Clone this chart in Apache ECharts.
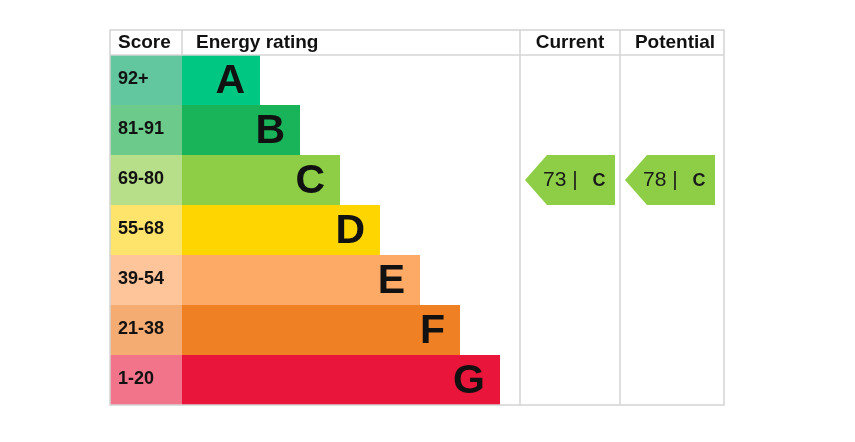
<!DOCTYPE html>
<html>
<head>
<meta charset="utf-8">
<script src="https://cdn.jsdelivr.net/npm/echarts@6/dist/echarts.min.js"></script>
<style>html,body{margin:0;padding:0;background:#fff}#c{width:855px;height:442px}</style>
</head>
<body>
<div id="c"></div>
<script>
// ---- data ----
const bands = ['A', 'B', 'C', 'D', 'E', 'F', 'G'];
const scoreRanges = ['92+', '81-91', '69-80', '55-68', '39-54', '21-38', '1-20'];
const bandMinScore = [92, 81, 69, 55, 39, 21, 1];
const barUnits = [2, 3, 4, 5, 6, 7, 8];
const bandColors = ['#00c781', '#19b459', '#8dce46', '#ffd500', '#fcaa65', '#ef8023', '#e9153b'];
const scoreColors = ['#62c79f', '#6ccb8b', '#b7de89', '#ffe46b', '#fec59a', '#f4ac72', '#f2748a'];
const currentScore = 73;
const potentialScore = 78;
const headers = ['Score', 'Energy rating', 'Current', 'Potential'];

function bandOf(score) {
  for (let i = 0; i < bandMinScore.length; i++) if (score >= bandMinScore[i]) return i;
  return bandMinScore.length - 1;
}

const chart = echarts.init(document.getElementById('c'), null, {renderer: 'canvas'});
const FONT = '"Liberation Sans", Arial, sans-serif';
const LINE = '#d4d4d4';

const gridTop = 55, gridH = 350;
const grids = [
  {left: 110, top: gridTop, width: 72, height: gridH},
  {left: 182, top: gridTop, width: 338, height: gridH},
  {left: 520, top: gridTop, width: 100, height: gridH},
  {left: 620, top: gridTop, width: 104, height: gridH}
];
const xAxes = [
  {gridIndex: 0, type: 'value', min: 0, max: 1, show: false},
  {gridIndex: 1, type: 'value', min: 0.05, max: 8.5, show: false},
  {gridIndex: 2, type: 'value', min: 0, max: 100, show: false},
  {gridIndex: 3, type: 'value', min: 0, max: 100, show: false}
];
const yAxes = grids.map((g, i) => ({gridIndex: i, type: 'category', data: bands, inverse: true, show: false}));

function arrowItem(score) {
  const b = bandOf(score);
  return {value: [score, b], band: bands[b], color: bandColors[b]};
}

function renderArrow(params, api) {
  const cs = params.coordSys;
  const b = api.value(1);
  const cy = api.coord([0, b])[1];
  const h = api.size([0, 1])[1];
  const x0 = cs.x + 5, x1 = cs.x + 95, tip = 22;
  const item = arrowData[params.seriesIndex === 2 ? 0 : 1];
  return {
    type: 'group',
    children: [
      {
        type: 'polygon',
        shape: {points: [[x0, cy], [x0 + tip, cy - h / 2], [x1, cy - h / 2], [x1, cy + h / 2], [x0 + tip, cy + h / 2]]},
        style: {fill: item.color}
      },
      {
        type: 'text',
        style: {x: cs.x + 23, y: cy, text: api.value(0) + ' |', fill: '#1a1a1a', font: '21px ' + FONT, verticalAlign: 'middle', align: 'left'}
      },
      {
        type: 'text',
        style: {x: cs.x + 79, y: cy + 1, text: item.band, fill: '#1a1a1a', font: 'bold 18px ' + FONT, verticalAlign: 'middle', align: 'center'}
      }
    ]
  };
}
const arrowData = [arrowItem(currentScore), arrowItem(potentialScore)];

const option = {
  animation: false,
  grid: grids,
  xAxis: xAxes,
  yAxis: yAxes,
  series: [
    {
      type: 'bar', xAxisIndex: 0, yAxisIndex: 0, barWidth: '100%', barCategoryGap: 0,
      data: scoreRanges.map((s, i) => ({value: 1, itemStyle: {color: scoreColors[i]}})),
      label: {show: true, position: 'insideLeft', distance: 8, offset: [0, -1], formatter: p => scoreRanges[p.dataIndex],
        color: '#111', fontWeight: 'bold', fontSize: 18, fontFamily: FONT},
      silent: true
    },
    {
      type: 'bar', xAxisIndex: 1, yAxisIndex: 1, barWidth: '100%', barCategoryGap: 0,
      data: barUnits.map((v, i) => ({value: v, itemStyle: {color: bandColors[i]}})),
      label: {show: true, position: 'insideRight', distance: 15, offset: [0, 2], formatter: p => bands[p.dataIndex],
        color: '#111', fontWeight: 'bold', fontSize: 41, fontFamily: FONT},
      silent: true
    },
    {
      type: 'custom', xAxisIndex: 2, yAxisIndex: 2, renderItem: renderArrow,
      data: [arrowData[0].value], silent: true
    },
    {
      type: 'custom', xAxisIndex: 3, yAxisIndex: 3, renderItem: renderArrow,
      data: [arrowData[1].value], silent: true
    }
  ],
  graphic: [
    {type: 'rect', shape: {x: 110, y: 30, width: 614, height: 375}, style: {fill: 'none', stroke: LINE, lineWidth: 1.5}, z: 100},
    {type: 'line', shape: {x1: 110, y1: 55, x2: 724, y2: 55}, style: {stroke: LINE, lineWidth: 1.5}, z: 100},
    {type: 'line', shape: {x1: 182, y1: 30, x2: 182, y2: 55}, style: {stroke: LINE, lineWidth: 1.5}, z: 100},
    {type: 'line', shape: {x1: 520, y1: 30, x2: 520, y2: 405}, style: {stroke: LINE, lineWidth: 1.5}, z: 100},
    {type: 'line', shape: {x1: 620, y1: 30, x2: 620, y2: 405}, style: {stroke: LINE, lineWidth: 1.5}, z: 100},
    {type: 'text', style: {x: 118, y: 43, text: headers[0], font: 'bold 19px ' + FONT, fill: '#111', verticalAlign: 'middle'}, z: 100},
    {type: 'text', style: {x: 196, y: 43, text: headers[1], font: 'bold 19px ' + FONT, fill: '#111', verticalAlign: 'middle'}, z: 100},
    {type: 'text', style: {x: 570, y: 43, text: headers[2], font: 'bold 19px ' + FONT, fill: '#111', verticalAlign: 'middle', align: 'center'}, z: 100},
    {type: 'text', style: {x: 675, y: 43, text: headers[3], font: 'bold 19px ' + FONT, fill: '#111', verticalAlign: 'middle', align: 'center'}, z: 100}
  ]
};
chart.setOption(option);
</script>
</body>
</html>
